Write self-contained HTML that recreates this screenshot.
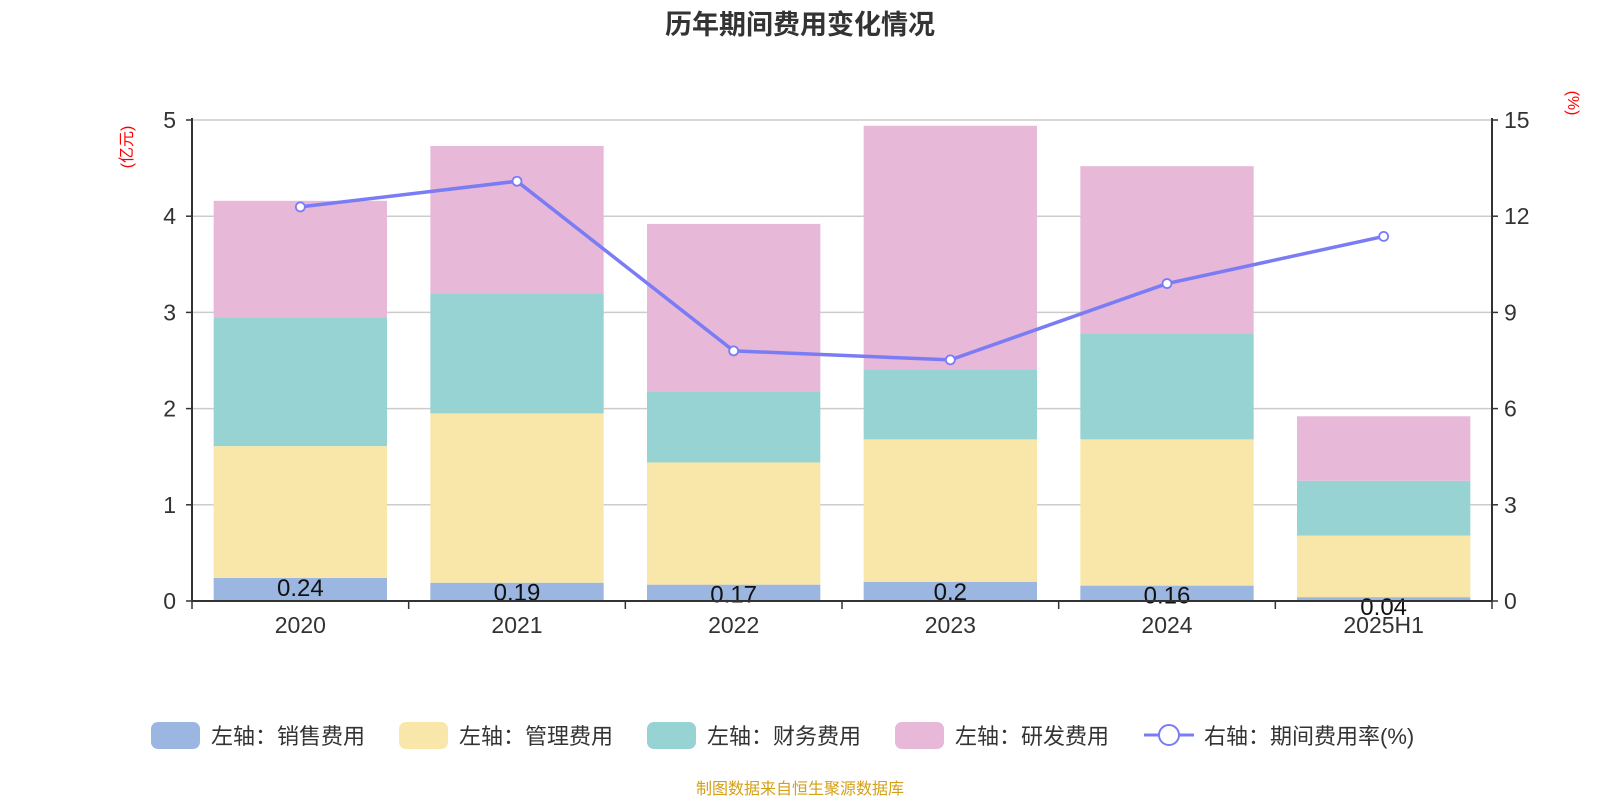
<!DOCTYPE html>
<html><head><meta charset="utf-8"><style>
html,body{margin:0;padding:0;background:#fff;}
svg{display:block;font-family:"Liberation Sans","Noto Sans CJK SC",sans-serif;}
</style></head><body>
<svg id="chart" width="1600" height="800">
<text x="800" y="34" text-anchor="middle" font-size="27" font-weight="bold" fill="#333">历年期间费用变化情况</text>
<text transform="translate(132,147) rotate(-90)" text-anchor="middle" font-size="16" fill="#f00">(亿元)</text>
<text transform="translate(1568,103) rotate(90)" text-anchor="middle" font-size="16" fill="#f00">(%)</text>
<g id="grid"></g><g id="bars"></g><g id="axes"></g><g id="line"></g>
<g id="legend" font-size="22" fill="#333">
<rect x="151" y="722" width="49" height="27" rx="7" fill="#9bb6e0"/>
<text x="211" y="744" fill="#333">左轴：销售费用</text>
<rect x="399" y="722" width="49" height="27" rx="7" fill="#f8e7a9"/>
<text x="459" y="744" fill="#333">左轴：管理费用</text>
<rect x="647" y="722" width="49" height="27" rx="7" fill="#98d3d4"/>
<text x="707" y="744" fill="#333">左轴：财务费用</text>
<rect x="895" y="722" width="49" height="27" rx="7" fill="#e7b8d7"/>
<text x="955" y="744" fill="#333">左轴：研发费用</text>
<line x1="1144" y1="735" x2="1194" y2="735" stroke="#7a7cf5" stroke-width="3"/>
<circle cx="1169" cy="735" r="10" fill="#fff" stroke="#7a7cf5" stroke-width="2"/>
<text x="1204" y="744" fill="#333">右轴：期间费用率(%)</text>
</g>
<text x="800" y="794" text-anchor="middle" font-size="16" fill="#d4a017">制图数据来自恒生聚源数据库</text>
</svg>
<script>
const categories=["2020","2021","2022","2023","2024","2025H1"];
const sales=[0.24,0.19,0.17,0.2,0.16,0.04];
const admin=[1.37,1.76,1.27,1.48,1.52,0.64];
const finance=[1.34,1.25,0.74,0.73,1.10,0.57];
const rd=[1.21,1.53,1.74,2.53,1.74,0.67];
const rate=[12.29,13.09,7.80,7.52,9.90,11.37];
const leftTicks=[0,1,2,3,4,5];
const rightTicks=[0,3,6,9,12,15];
const NS="http://www.w3.org/2000/svg";
const X0=192,X1=1492,Y0=601,Y1=120;
const band=(X1-X0)/categories.length;
const yL=v=>Y0-(v/5)*(Y0-Y1);
const yR=v=>Y0-(v/15)*(Y0-Y1);
const xC=i=>X0+band*(i+0.5);
function mk(tag,attrs,parent){const e=document.createElementNS(NS,tag);for(const k in attrs)e.setAttribute(k,attrs[k]);document.getElementById(parent).appendChild(e);return e;}
leftTicks.forEach((t,i)=>{
  const g=mk("line",{x1:X0,x2:X1,y1:yL(t),y2:yL(t),stroke:"#ccc","stroke-width":1.5},"grid");
  
  
  const l=mk("text",{x:X0-16,y:yL(t)+8,"text-anchor":"end","font-size":23,fill:"#333"},"axes");l.textContent=t;
  
  
  mk("line",{x1:X0-6,x2:X0,y1:yL(t),y2:yL(t),stroke:"#333","stroke-width":1.5},"axes");
});
rightTicks.forEach(t=>{
  const l=mk("text",{x:X1+12,y:yR(t)+8,"font-size":23,fill:"#333"},"axes");l.textContent=t;
  
  
  mk("line",{x1:X1,x2:X1+6,y1:yR(t),y2:yR(t),stroke:"#333","stroke-width":1.5},"axes");
});
const series=[[sales,"#9bb6e0","bar-sales"],[admin,"#f8e7a9","bar-admin"],[finance,"#98d3d4","bar-finance"],[rd,"#e7b8d7","bar-rd"]];
const bw=band*0.8;
categories.forEach((c,i)=>{
  let acc=0;
  series.forEach(([arr,col,nm])=>{
    const top=yL(acc+arr[i]),bot=yL(acc);
    const r=mk("rect",{x:xC(i)-bw/2,y:top,width:bw,height:bot-top,fill:col},"bars");
    
    
    acc+=arr[i];
  });
  const v=mk("text",{x:xC(i),y:yL(sales[i])+18,"text-anchor":"middle","font-size":24,fill:"#111"},"bars");v.textContent=sales[i];
  
  
  const xl=mk("text",{x:xC(i),y:633,"text-anchor":"middle","font-size":23,fill:"#333"},"axes");xl.textContent=c;
  
  
});
for(let i=0;i<=categories.length;i++){mk("line",{x1:X0+band*i,x2:X0+band*i,y1:Y0,y2:Y0+8,stroke:"#333","stroke-width":1.5},"axes");}
mk("line",{x1:X0,x2:X1,y1:Y0,y2:Y0,stroke:"#333","stroke-width":2},"axes");
mk("line",{x1:X0,x2:X0,y1:Y1-2,y2:Y0,stroke:"#333","stroke-width":2},"axes");
mk("line",{x1:X1,x2:X1,y1:Y1-2,y2:Y0,stroke:"#333","stroke-width":2},"axes");
const pl=mk("polyline",{points:rate.map((v,i)=>xC(i)+","+yR(v)).join(" "),fill:"none",stroke:"#7a7cf5","stroke-width":3.5},"line");


rate.forEach((v,i)=>{
  const c=mk("circle",{cx:xC(i),cy:yR(v),r:4.5,fill:"#fff",stroke:"#7a7cf5","stroke-width":1.8},"line");
  
  
});
</script>
</body></html>
